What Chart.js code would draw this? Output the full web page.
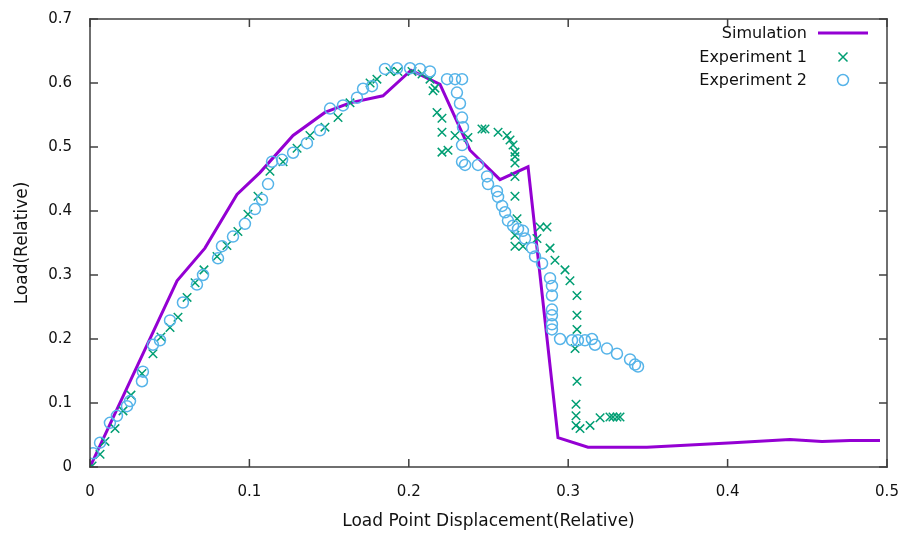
<!DOCTYPE html>
<html>
<head>
<meta charset="utf-8">
<title>Load vs displacement</title>
<script src="https://cdn.jsdelivr.net/npm/chart.js@4/dist/chart.umd.min.js"></script>
<style>
  html, body { margin: 0; padding: 0; background: #fff; }
  #wrap { width: 907px; height: 540px; }
</style>
</head>
<body>
<div id="wrap"><canvas id="loadChart" width="907" height="540"></canvas></div>
<script>
// Simulation curve
const simDisp = [0, 0.0546, 0.0721, 0.0922, 0.1066, 0.1274, 0.1474, 0.1631, 0.1838, 0.2014,
    0.2196, 0.2384, 0.2572, 0.2748, 0.2936, 0.3124, 0.3494, 0.4034, 0.4391, 0.4592, 0.4768, 0.4956];
const simLoad = [0, 0.291, 0.342, 0.426, 0.46, 0.518, 0.554, 0.569, 0.58, 0.62,
    0.598, 0.495, 0.449, 0.469, 0.046, 0.031, 0.031, 0.038, 0.043, 0.04, 0.0415, 0.0415];

// Experiment 1
const exp1Disp = [0.0013, 0.0063, 0.0094, 0.0157, 0.0207, 0.0257, 0.0326, 0.0395, 0.0445, 0.0502,
    0.0552, 0.0609, 0.0659, 0.0715, 0.0797, 0.0859, 0.0928, 0.0991, 0.1054, 0.1129,
    0.1211, 0.1299, 0.138, 0.1474, 0.1556, 0.1631, 0.1757, 0.18, 0.1882, 0.1932,
    0.202, 0.2083, 0.2133, 0.2164, 0.2152, 0.2177, 0.2208, 0.2208, 0.229, 0.2371,
    0.2208, 0.2246, 0.2459, 0.2478, 0.256, 0.2616, 0.2635, 0.2654, 0.2666, 0.2666,
    0.2666, 0.2666, 0.2666, 0.2679, 0.2666, 0.2666, 0.2716, 0.2804, 0.2823, 0.2867,
    0.2886, 0.2917, 0.298, 0.3011, 0.3055, 0.3055, 0.3055, 0.3043, 0.3055, 0.3049,
    0.3049, 0.3049, 0.3074, 0.3137, 0.32, 0.3262, 0.3281, 0.3306, 0.3325];
const exp1Load = [0.0015, 0.02, 0.04, 0.06, 0.0877, 0.1123, 0.146, 0.177, 0.203, 0.218,
    0.234, 0.265, 0.288, 0.308, 0.329, 0.346, 0.368, 0.395, 0.423, 0.462,
    0.477, 0.498, 0.518, 0.531, 0.546, 0.569, 0.6, 0.606, 0.618, 0.618,
    0.618, 0.614, 0.606, 0.592, 0.588, 0.554, 0.545, 0.523, 0.518, 0.515,
    0.492, 0.495, 0.528, 0.528, 0.523, 0.518, 0.511, 0.503, 0.492, 0.485,
    0.475, 0.454, 0.423, 0.388, 0.362, 0.345, 0.345, 0.357, 0.375, 0.375,
    0.342, 0.323, 0.308, 0.291, 0.268, 0.237, 0.215, 0.185, 0.134, 0.098,
    0.08, 0.065, 0.06, 0.065, 0.077, 0.078, 0.078, 0.078, 0.078];

// Experiment 2
const exp2Disp = [0.0019, 0.0063, 0.0125, 0.0169, 0.0232, 0.0251, 0.0326, 0.0332, 0.0395, 0.0439,
    0.0502, 0.0583, 0.0671, 0.0709, 0.0803, 0.0828, 0.0897, 0.0972, 0.1035, 0.1079,
    0.1117, 0.1142, 0.1205, 0.1274, 0.1361, 0.1443, 0.1506, 0.1587, 0.1675, 0.1713,
    0.1769, 0.1851, 0.1926, 0.2008, 0.207, 0.2133, 0.224, 0.229, 0.2334, 0.2302,
    0.2321, 0.2334, 0.234, 0.2334, 0.2334, 0.2353, 0.2434, 0.2491, 0.2497, 0.2553,
    0.256, 0.2585, 0.2604, 0.2622, 0.2654, 0.2685, 0.2716, 0.2729, 0.2773, 0.2792,
    0.2836, 0.2886, 0.2898, 0.2898, 0.2898, 0.2898, 0.2898, 0.2898, 0.2949, 0.3024,
    0.3061, 0.3105, 0.3149, 0.3168, 0.3243, 0.3306, 0.3388, 0.3419, 0.3438];
const exp2Load = [0.0215, 0.038, 0.069, 0.08, 0.095, 0.103, 0.134, 0.149, 0.191, 0.198,
    0.229, 0.257, 0.285, 0.3, 0.326, 0.345, 0.36, 0.38, 0.403, 0.418,
    0.442, 0.477, 0.48, 0.491, 0.506, 0.526, 0.56, 0.565, 0.577, 0.591,
    0.595, 0.622, 0.623, 0.623, 0.622, 0.618, 0.606, 0.606, 0.606, 0.585,
    0.568, 0.546, 0.531, 0.503, 0.477, 0.472, 0.472, 0.454, 0.442, 0.431,
    0.422, 0.408, 0.398, 0.385, 0.377, 0.372, 0.369, 0.357, 0.342, 0.329,
    0.318, 0.295, 0.283, 0.268, 0.246, 0.237, 0.223, 0.215, 0.2, 0.198,
    0.198, 0.198, 0.2, 0.191, 0.185, 0.177, 0.168, 0.16, 0.157];

const seriesNames = ['Simulation', 'Experiment 1', 'Experiment 2'];
const seriesColors = ['#9400d3', '#009e73', '#56b4e9'];

const toPoints = (xs, ys) => xs.map((x, i) => ({ x: x, y: ys[i] }));

const FONT = '"DejaVu Sans", Verdana, sans-serif';
const AXIS_COLOR = '#404040';

// box around the plot with inward tick marks on all four sides
const boxPlugin = {
    id: 'plotBox',
    afterDatasetsDraw(chart) {
        const ctx = chart.ctx;
        const a = chart.chartArea;
        const len = 8, w = 1.5;
        ctx.save();
        ctx.fillStyle = AXIS_COLOR;
        ctx.fillRect(a.left - w / 2, a.top - w / 2, a.right - a.left + w, w);
        ctx.fillRect(a.left - w / 2, a.bottom - w / 2, a.right - a.left + w, w);
        ctx.fillRect(a.left - w / 2, a.top - w / 2, w, a.bottom - a.top + w);
        ctx.fillRect(a.right - w / 2, a.top - w / 2, w, a.bottom - a.top + w);
        chart.scales.x.ticks.forEach(t => {
            const px = chart.scales.x.getPixelForValue(t.value);
            ctx.fillRect(px - w / 2, a.bottom - len, w, len);
            ctx.fillRect(px - w / 2, a.top, w, len);
        });
        chart.scales.y.ticks.forEach(t => {
            const py = chart.scales.y.getPixelForValue(t.value);
            ctx.fillRect(a.left, py - w / 2, len, w);
            ctx.fillRect(a.right - len, py - w / 2, len, w);
        });
        ctx.restore();
    }
};

// key in the top right corner: label right aligned, sample to its right
const keyPlugin = {
    id: 'plotKey',
    afterDraw(chart) {
        const ctx = chart.ctx;
        const textRight = 807, sampleX = 843, rowY = [33, 57, 80];
        ctx.save();
        ctx.font = '16px ' + FONT;
        ctx.textAlign = 'right';
        ctx.textBaseline = 'middle';
        chart.data.datasets.forEach((ds, i) => {
            const y = rowY[i];
            ctx.fillStyle = '#111';
            ctx.fillText(ds.label, textRight, y + 1);
            ctx.strokeStyle = ds.borderColor;
            ctx.beginPath();
            if (i === 0) {
                ctx.lineWidth = 3;
                ctx.moveTo(818, y); ctx.lineTo(868, y);
            } else if (i === 1) {
                ctx.lineWidth = 1.5;
                ctx.moveTo(sampleX - 4.5, y - 4.5); ctx.lineTo(sampleX + 4.5, y + 4.5);
                ctx.moveTo(sampleX - 4.5, y + 4.5); ctx.lineTo(sampleX + 4.5, y - 4.5);
            } else {
                ctx.lineWidth = 1.5;
                ctx.arc(sampleX, y, 5.5, 0, Math.PI * 2);
            }
            ctx.stroke();
        });
        ctx.restore();
    }
};

const ctx1 = document.getElementById('loadChart').getContext('2d');

const loadChart = new Chart(ctx1, {
    type: 'scatter',
    data: {
        datasets: [{
            label: seriesNames[0],
            data: toPoints(simDisp, simLoad),
            showLine: true,
            borderColor: seriesColors[0],
            backgroundColor: seriesColors[0],
            borderWidth: 3,
            pointRadius: 0,
            tension: 0,
            order: 3
        }, {
            label: seriesNames[1],
            data: toPoints(exp1Disp, exp1Load),
            borderColor: seriesColors[1],
            backgroundColor: 'transparent',
            pointStyle: 'crossRot',
            pointRadius: 6,
            pointBorderWidth: 1.5,
            order: 2
        }, {
            label: seriesNames[2],
            data: toPoints(exp2Disp, exp2Load),
            borderColor: seriesColors[2],
            backgroundColor: 'transparent',
            pointStyle: 'circle',
            pointRadius: 5.5,
            pointBorderWidth: 1.5,
            order: 1
        }]
    },
    options: {
        responsive: false,
        animation: false,
        layout: { padding: { top: 12, right: 20, bottom: 0, left: 0 } },
        plugins: {
            legend: { display: false },
            tooltip: { enabled: false }
        },
        scales: {
            x: {
                type: 'linear',
                min: 0,
                max: 0.5,
                afterFit: s => { s.height = 73; },
                grid: { display: false },
                border: { display: false },
                ticks: { stepSize: 0.1, padding: 8, color: '#111', font: { family: FONT, size: 15 } },
                title: {
                    display: true,
                    text: 'Load Point Displacement(Relative)',
                    color: '#111',
                    font: { family: FONT, size: 17 },
                    padding: { top: 0, bottom: 8 }
                }
            },
            y: {
                type: 'linear',
                min: 0,
                max: 0.7,
                afterFit: s => { s.width = 90; },
                grid: { display: false },
                border: { display: false },
                ticks: { stepSize: 0.1, padding: 10, color: '#111', font: { family: FONT, size: 15 } },
                title: {
                    display: true,
                    text: 'Load(Relative)',
                    color: '#111',
                    font: { family: FONT, size: 17 },
                    padding: { top: 12, bottom: 0 }
                }
            }
        }
    },
    plugins: [boxPlugin, keyPlugin]
});
</script>
</body>
</html>
